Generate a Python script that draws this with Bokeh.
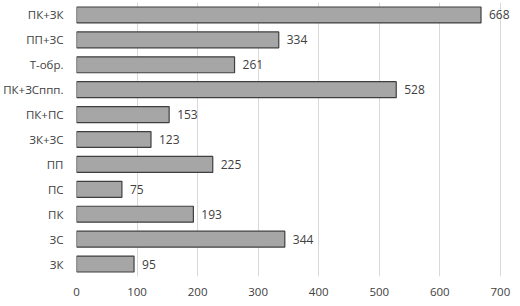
from bokeh.plotting import figure
from bokeh.models import ColumnDataSource, Range1d, FactorRange, LabelSet, FixedTicker
from bokeh.core.properties import value
from bokeh.embed import file_html
from bokeh.resources import INLINE

categories = ["ПК+ЗК", "ПП+ЗС", "Т-обр.", "ПК+ЗСппп.", "ПК+ПС", "ЗК+ЗС", "ПП", "ПС", "ПК", "ЗС", "ЗК"]
values = [668, 334, 261, 528, 153, 123, 225, 75, 193, 344, 95]
x_ticks = [0, 100, 200, 300, 400, 500, 600, 700]

FONT = "Open Sans"
FS = "11.5px"
TC = "#404040"

src = ColumnDataSource(dict(cat=categories, val=values, lab=[str(v) for v in values]))

p = figure(width=512, height=298, output_backend="svg", toolbar_location=None,
           y_range=FactorRange(*categories[::-1], range_padding=0),
           x_range=Range1d(0, 720),
           min_border_left=75, min_border_right=0, min_border_top=2, min_border_bottom=20)
p.outline_line_color = None
p.hbar(y="cat", right="val", left=0, height=0.64, source=src,
       fill_color="#a6a6a6", line_color="#3f3f3f", line_width=1.2)
labels = LabelSet(x="val", y="cat", text="lab", source=src, x_offset=8, y_offset=0,
                  text_baseline="middle", text_font=value(FONT), text_font_size=value("12px"),
                  text_color=TC)
p.add_layout(labels)

p.xaxis.ticker = FixedTicker(ticks=x_ticks)
for ax in (p.xaxis, p.yaxis):
    ax.axis_line_color = None
    ax.major_tick_line_color = None
    ax.minor_tick_line_color = None
    ax.major_label_text_font = FONT
    ax.major_label_text_font_size = FS
    ax.major_label_text_color = TC
p.xaxis.major_label_standoff = 5
p.yaxis.major_label_standoff = 7
p.ygrid.grid_line_color = None
p.xgrid.grid_line_color = "#d9d9d9"
p.xgrid.ticker = FixedTicker(ticks=x_ticks)

open("out.html", "w").write(file_html(p, INLINE))
